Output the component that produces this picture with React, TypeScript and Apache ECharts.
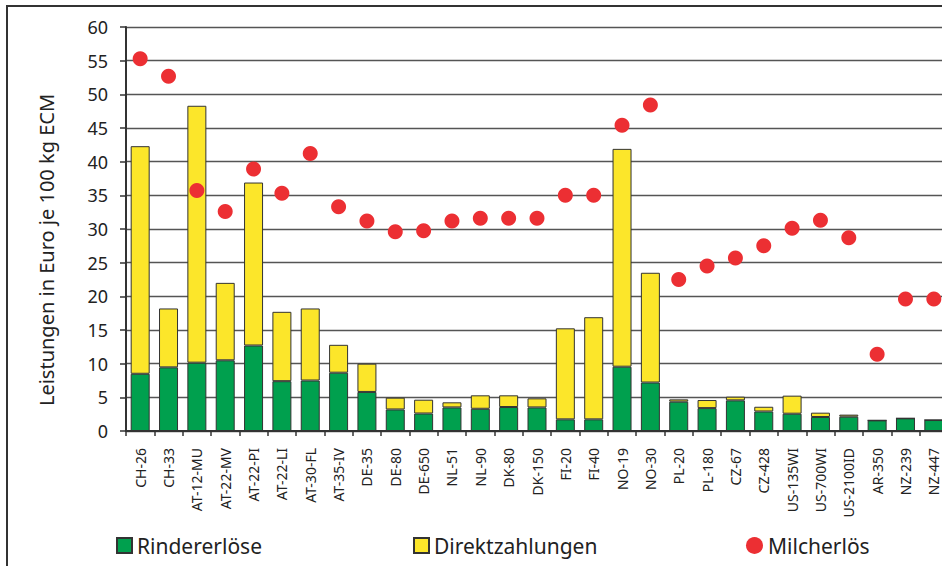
import React, { useEffect, useRef } from "react";
import * as echarts from "echarts";

const categories = [
  "CH-26", "CH-33", "AT-12-MU", "AT-22-MV", "AT-22-PI", "AT-22-LI", "AT-30-FL", "AT-35-IV",
  "DE-35", "DE-80", "DE-650", "NL-51", "NL-90", "DK-80", "DK-150", "FI-20", "FI-40",
  "NO-19", "NO-30", "PL-20", "PL-180", "CZ-67", "CZ-428", "US-135WI", "US-700WI",
  "US-2100ID", "AR-350", "NZ-239", "NZ-447",
];

const rindererloese = [
  8.5, 9.45, 10.15, 10.5, 12.7, 7.4, 7.5, 8.66, 5.8, 3.2, 2.6, 3.5, 3.3, 3.56, 3.5, 1.73, 1.73,
  9.55, 7.2, 4.36, 3.4, 4.55, 2.9, 2.57, 2.08, 2.13, 1.58, 1.88, 1.63,
];

const direktzahlungen = [
  33.8, 8.75, 38.15, 11.5, 24.2, 10.3, 10.7, 4.14, 4.2, 1.75, 2.05, 0.76, 2.0, 1.74, 1.35, 13.52, 15.17,
  32.35, 16.3, 0.34, 1.2, 0.55, 0.7, 2.68, 0.64, 0.3, 0, 0, 0,
];

const milcherloes = [
  55.3, 52.7, 35.7, 32.6, 38.9, 35.3, 41.2, 33.3, 31.2, 29.6, 29.75, 31.2, 31.6, 31.6, 31.6, 35.0, 35.0,
  45.4, 48.4, 22.5, 24.5, 25.7, 27.5, 30.1, 31.3, 28.7, 11.4, 19.6, 19.6,
];

const FONT = "'Noto Sans', 'Open Sans', sans-serif";

export default function App() {
  const ref = useRef<HTMLDivElement>(null);

  useEffect(() => {
    if (!ref.current) return;
    const chart = echarts.init(ref.current, undefined, { renderer: "svg" });
    const legendText = { fontSize: 21, color: "#222", fontFamily: FONT };
    chart.setOption({
      animation: false,
      backgroundColor: "#ffffff",
      textStyle: { fontFamily: FONT },
      grid: { left: 126, top: 27, width: 822, height: 404, containLabel: false },
      legend: [
        {
          data: ["Rindererlöse"], left: 116, top: 535, padding: 0, icon: "rect",
          itemWidth: 15, itemHeight: 15, itemGap: 6, textStyle: legendText,
        },
        {
          data: ["Direktzahlungen"], left: 413, top: 535, padding: 0, icon: "rect",
          itemWidth: 15, itemHeight: 15, textStyle: legendText,
        },
        {
          data: ["Milcherlös"], left: 746, top: 535, padding: 0, icon: "circle",
          itemWidth: 17, itemHeight: 17, textStyle: legendText,
        },
      ],
      xAxis: {
        type: "category",
        data: categories,
        axisLine: { show: true, lineStyle: { color: "#333", width: 2 } },
        axisTick: { show: true, length: 5, lineStyle: { color: "#333", width: 1.5 } },
        axisLabel: { rotate: 90, fontSize: 14, color: "#222", margin: 17, interval: 0, fontFamily: FONT },
      },
      yAxis: {
        type: "value",
        min: 0,
        max: 60,
        interval: 5,
        name: "Leistungen in Euro je 100 kg ECM",
        nameLocation: "middle",
        nameGap: 70,
        nameTextStyle: { fontSize: 20, color: "#222", fontFamily: FONT, padding: [0, 42, 0, 0] },
        axisLine: { show: true, lineStyle: { color: "#333", width: 2 } },
        axisTick: { show: true, length: 6, lineStyle: { color: "#333", width: 1.5 } },
        axisLabel: { fontSize: 18, color: "#222", margin: 18, fontFamily: FONT },
        splitLine: { show: true, lineStyle: { color: "#555", width: 1.3 } },
      },
      series: [
        {
          name: "Rindererlöse",
          type: "bar",
          stack: "total",
          data: rindererloese,
          barWidth: 19,
          itemStyle: { color: "#00A04E", borderColor: "#333", borderWidth: 1 },
        },
        {
          name: "Direktzahlungen",
          type: "bar",
          stack: "total",
          data: direktzahlungen,
          barWidth: 19,
          itemStyle: { color: "#FCE62A", borderColor: "#333", borderWidth: 1 },
        },
        {
          name: "Milcherlös",
          type: "scatter",
          data: milcherloes,
          symbolSize: 15,
          itemStyle: { color: "#EC2F33", opacity: 1 },
          z: 5,
        },
      ],
      graphic: [
        { type: "line", shape: { x1: 7, y1: 6, x2: 7, y2: 566 }, style: { stroke: "#333", lineWidth: 2 } },
        { type: "line", shape: { x1: 6, y1: 6, x2: 960, y2: 6 }, style: { stroke: "#333", lineWidth: 2 } },
      ],
    });
    return () => chart.dispose();
  }, []);

  return (
    <div style={{ position: "fixed", left: 0, top: 0, width: 942, height: 566, overflow: "hidden", background: "#fff" }}>
      <div ref={ref} style={{ width: 960, height: 566 }} />
    </div>
  );
}
